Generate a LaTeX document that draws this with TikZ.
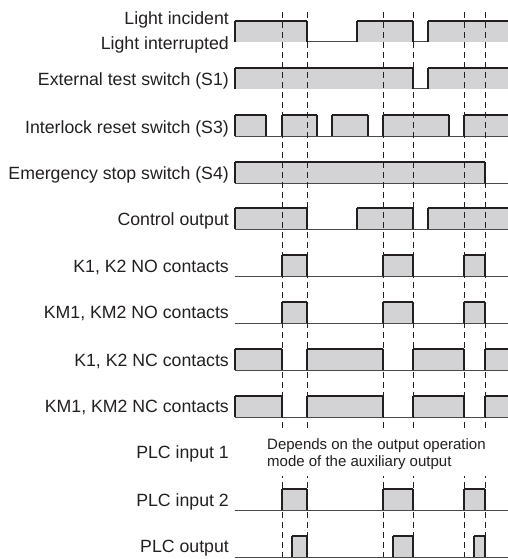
\documentclass[tikz,border=0pt]{standalone}
\usepackage{fontspec}
\setmainfont{Liberation Sans}
\usetikzlibrary{positioning}
\definecolor{inkdark}{HTML}{231F20}
\definecolor{pulsegray}{HTML}{D3D3D5}
\definecolor{basegray}{HTML}{4A4A4A}
\tikzset{
  siglabel/.style={anchor=base east,inner sep=0pt,text=inkdark,font=\fontsize{17.7}{20}\selectfont},
  notetext/.style={anchor=base west,align=left,fill=white,inner xsep=2pt,inner ysep=6pt,text=inkdark,font=\fontsize{15}{17.5}\selectfont},
  sigbase/.style={basegray,line width=1pt},
  pulsefill/.style={fill=pulsegray},
  pulseedge/.style={inkdark,line width=1.1pt},
  pulsetop/.style={inkdark,line width=2pt},
  timemark/.style={inkdark,line width=0.8pt,dash pattern=on 6pt off 4pt}
}

\begin{document}
\begin{tikzpicture}[x=1pt,y=-1pt]
  \useasboundingbox (0,0) rectangle (507,559);
  \def\pulselist{42/235/307,42/357/413,42/428/510,
    89/235/413,89/428/510,
    136/235/266,136/282/317,136/332/368,136/383/449,136/464/510,
    183/235/485,
    229/235/307,229/357/413,229/428/510,
    276/282/307,276/383/413,276/464/485,
    323/282/307,323/383/413,323/464/485,
    370/235/282,370/307/383,370/413/464,370/485/510,
    417/235/282,417/307/383,417/413/464,417/485/510,
    510/282/307,510/383/413,510/464/485,
    557/292/307,557/393/413,557/474/485}
  \foreach \b in {42,89,136,183,229,276,323,370,417,510,557}
    \draw[sigbase] (235,\b) -- (510,\b);
  \foreach \b/\a/\e in \pulselist
    \fill[pulsefill] (\a,\b) rectangle (\e,\b-21);
  \foreach \x in {282,307,383,413,464,485}
    \draw[timemark] (\x,12) -- (\x,557);
  \foreach \b/\a/\e in \pulselist {
    \draw[pulseedge] (\a,\b) -- (\a,\b-21);
    \draw[pulsetop] (\a,\b-21) -- (\e,\b-21);
    \draw[pulseedge] (\e,\b-21) -- (\e,\b);
  }
  \node[siglabel] (lightin) at (229,25) {Light incident};
  \node[siglabel] (lightout) at (229,49.5) {Light interrupted};
  \node[siglabel] (testsw) at (229,86) {External test switch (S1)};
  \node[siglabel] (resetsw) at (229,133) {Interlock reset switch (S3)};
  \node[siglabel] (estop) at (229,179.5) {Emergency stop switch (S4)};
  \node[siglabel] (ctrlout) at (229,225) {Control output};
  \node[siglabel] (kno) at (229,272) {K1, K2 NO contacts};
  \node[siglabel] (kmno) at (229,318.5) {KM1, KM2 NO contacts};
  \node[siglabel] (knc) at (229,366) {K1, K2 NC contacts};
  \node[siglabel] (kmnc) at (229,412.5) {KM1, KM2 NC contacts};
  \node[siglabel] (plcin1) at (229,458.5) {PLC input 1};
  \node[siglabel] (plcin2) at (229,506) {PLC input 2};
  \node[siglabel] (plcout) at (229,552) {PLC output};
  \node[notetext] (auxnote) at (265,466.5) {Depends on the output operation\\mode of the auxiliary output};
\end{tikzpicture}
\end{document}
